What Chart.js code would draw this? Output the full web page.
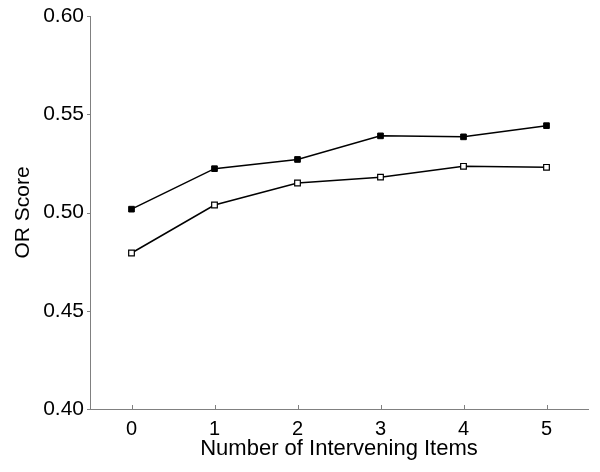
<!DOCTYPE html>
<html>
<head>
<meta charset="utf-8">
<script src="https://cdn.jsdelivr.net/npm/chart.js@4/dist/chart.umd.min.js"></script>
<style>
html,body{margin:0;padding:0;background:#fff;}
#wrap{width:600px;height:472px;}
</style>
</head>
<body>
<div id="wrap"><canvas id="c" width="600" height="472"></canvas></div>
<script>
const categories = [0, 1, 2, 3, 4, 5];
const filledSeries = [0.5017, 0.5223, 0.5270, 0.5390, 0.5385, 0.5442];
const hollowSeries = [0.4794, 0.5038, 0.5150, 0.5180, 0.5235, 0.5230];
const yTicks = [0.40, 0.45, 0.50, 0.55, 0.60];

const innerTicks = {
  id: 'innerTicks',
  afterDraw(chart) {
    const ctx = chart.ctx;
    const xs = chart.scales.x, ys = chart.scales.y;
    ctx.save();
    ctx.strokeStyle = '#808080';
    ctx.lineWidth = 1;
    ctx.beginPath();
    categories.forEach(v => {
      const px = Math.round(xs.getPixelForValue(v)) + 0.5;
      ctx.moveTo(px, ys.bottom);
      ctx.lineTo(px, ys.bottom - 4);
    });
    yTicks.forEach(v => {
      const py = Math.round(ys.getPixelForValue(v)) + 0.5;
      ctx.moveTo(xs.left, py);
      ctx.lineTo(xs.left - 3, py);
    });
    ctx.stroke();
    ctx.restore();
  }
};

const FONT = 'Liberation Sans, Arial, Helvetica';

new Chart(document.getElementById('c'), {
  type: 'line',
  data: {
    datasets: [
      {
        data: categories.map((c, i) => ({x: c, y: filledSeries[i]})),
        borderColor: '#000',
        backgroundColor: '#000',
        borderWidth: 1.5,
        pointStyle: 'rect',
        pointRadius: 4,
        pointBorderColor: '#000',
        pointBackgroundColor: '#000',
        pointBorderWidth: 1,
        tension: 0
      },
      {
        data: categories.map((c, i) => ({x: c, y: hollowSeries[i]})),
        borderColor: '#000',
        backgroundColor: '#fff',
        borderWidth: 1.5,
        pointStyle: 'rect',
        pointRadius: 4,
        pointBorderColor: '#000',
        pointBackgroundColor: '#fff',
        pointBorderWidth: 1.2,
        tension: 0
      }
    ]
  },
  options: {
    responsive: false,
    animation: false,
    layout: {padding: {top: 16, right: 12, bottom: 0, left: 2}},
    plugins: {legend: {display: false}, tooltip: {enabled: false}},
    scales: {
      x: {
        type: 'linear',
        min: -0.5,
        max: 5.5,
        afterBuildTicks(s) { s.ticks = categories.map(v => ({value: v})); },
        afterFit(s) { s.height = 63; s.paddingLeft = 0; s.paddingRight = 0; },
        grid: {display: false, drawTicks: false},
        border: {display: true, color: '#808080', width: 1},
        ticks: {color: '#000', font: {family: FONT, size: 20}, padding: 8, callback: v => String(v)},
        title: {display: true, text: 'Number of Intervening Items', color: '#000', font: {family: FONT, size: 22}, padding: {top: 0, bottom: 10}}
      },
      y: {
        min: 0.40,
        max: 0.60,
        afterBuildTicks(s) { s.ticks = yTicks.map(v => ({value: v})); },
        afterFit(s) { s.width = 88; s.paddingTop = 0; s.paddingBottom = 0; },
        grid: {display: false, drawTicks: false},
        border: {display: true, color: '#808080', width: 1},
        ticks: {color: '#000', font: {family: FONT, size: 21}, padding: 6, callback: v => v.toFixed(2)},
        title: {display: true, text: 'OR Score', color: '#000', font: {family: FONT, size: 21}, padding: {top: 9, bottom: 0}}
      }
    }
  },
  plugins: [innerTicks]
});
</script>
</body>
</html>
